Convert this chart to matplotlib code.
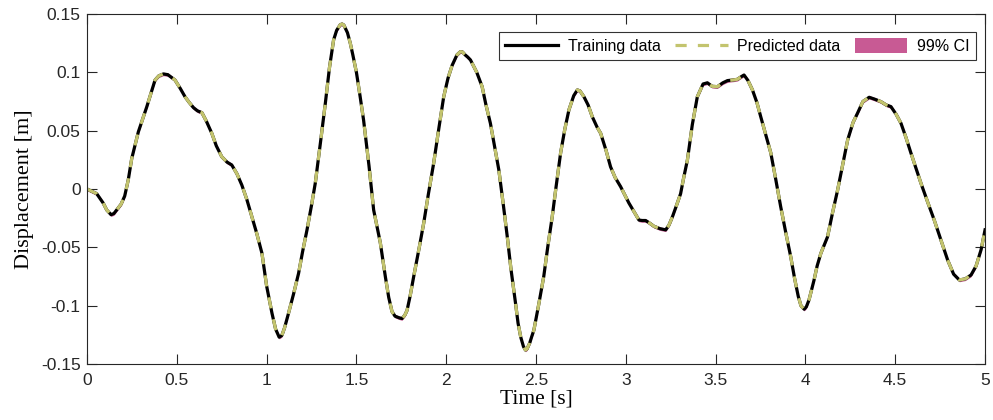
import matplotlib.pyplot as plt
import numpy as np

# values
time = [0.000, 0.054, 0.09, 0.11, 0.134, 0.15, 0.17, 0.19, 0.21, 0.23,
        0.249, 0.286, 0.333, 0.379, 0.40, 0.425, 0.45, 0.49, 0.52, 0.546,
        0.57, 0.593, 0.615, 0.64, 0.665, 0.695, 0.72, 0.75, 0.78, 0.806,
        0.835, 0.862, 0.89, 0.918, 0.945, 0.974, 1.00, 1.03, 1.05, 1.07,
        1.085, 1.10, 1.122, 1.15, 1.178, 1.20, 1.225, 1.25, 1.271, 1.30,
        1.327, 1.35, 1.373, 1.39, 1.41, 1.42, 1.43, 1.45, 1.466, 1.48,
        1.50, 1.52, 1.54, 1.57, 1.596, 1.633, 1.661, 1.68, 1.698, 1.715,
        1.74, 1.754, 1.77, 1.782, 1.80, 1.819, 1.85, 1.875, 1.90, 1.93,
        1.96, 1.986, 2.01, 2.033, 2.06, 2.079, 2.09, 2.105, 2.12, 2.135,
        2.17, 2.2, 2.22, 2.246, 2.27, 2.293, 2.32, 2.34, 2.36, 2.386,
        2.40, 2.415, 2.43, 2.441, 2.45, 2.465, 2.475, 2.488, 2.515, 2.543,
        2.565, 2.59, 2.61, 2.637, 2.66, 2.683, 2.71, 2.73, 2.745, 2.767,
        2.79, 2.813, 2.84, 2.86, 2.89, 2.915, 2.94, 2.971, 3.017, 3.04,
        3.073, 3.09, 3.11, 3.13, 3.157, 3.19, 3.222, 3.24, 3.259, 3.28,
        3.305, 3.32, 3.343, 3.37, 3.398, 3.43, 3.454, 3.48, 3.51, 3.54,
        3.566, 3.60, 3.621, 3.64, 3.658, 3.68, 3.705, 3.73, 3.751, 3.78,
        3.807, 3.835, 3.862, 3.89, 3.918, 3.94, 3.96, 3.975, 3.993, 4.005,
        4.02, 4.048, 4.065, 4.086, 4.123, 4.15, 4.179, 4.21, 4.235, 4.265,
        4.29, 4.32, 4.355, 4.385, 4.42, 4.45, 4.476, 4.505, 4.532, 4.56,
        4.587, 4.615, 4.643, 4.68, 4.717, 4.755, 4.792, 4.825, 4.857, 4.89,
        4.922, 4.95, 4.978, 5.0]
train_disp = [0.000, -0.004, -0.012, -0.018, -0.022, -0.021, -0.017, -0.013, -0.006, 0.008,
              0.026, 0.049, 0.0705, 0.0934, 0.097, 0.0986, 0.098, 0.0934, 0.086, 0.079,
              0.074, 0.0697, 0.067, 0.0654, 0.058, 0.0477, 0.037, 0.0277, 0.023, 0.0206,
              0.013, 0.0034, -0.009, -0.0237, -0.038, -0.055, -0.083, -0.1065, -0.120, -0.127,
              -0.1255, -0.119, -0.1065, -0.090, -0.0723, -0.054, -0.035, -0.014, 0.005, 0.040,
              0.0735, 0.104, 0.1277, 0.136, 0.1408, 0.1414, 0.1405, 0.134, 0.1249, 0.115,
              0.100, 0.080, 0.059, 0.020, -0.018, -0.046, -0.075, -0.093, -0.105, -0.109,
              -0.1105, -0.111, -0.108, -0.104, -0.091, -0.075, -0.050, -0.029, -0.005, 0.022,
              0.053, 0.079, 0.095, 0.106, 0.115, 0.1177, 0.1175, 0.115, 0.113, 0.1106,
              0.100, 0.0877, 0.073, 0.0563, 0.036, 0.0163, -0.016, -0.041, -0.068, -0.098,
              -0.115, -0.127, -0.135, -0.138, -0.137, -0.132, -0.127, -0.121, -0.099, -0.075,
              -0.050, -0.024, 0.000, 0.031, 0.051, 0.0677, 0.080, 0.0849, 0.084, 0.079,
              0.072, 0.062, 0.053, 0.0477, 0.033, 0.019, 0.010, 0.002, -0.012, -0.018,
              -0.0266, -0.027, -0.027, -0.029, -0.032, -0.034, -0.035, -0.031, -0.024, -0.015,
              -0.004, 0.008, 0.025, 0.055, 0.079, 0.090, 0.091, 0.088, 0.0877, 0.091,
              0.0929, 0.0935, 0.094, 0.096, 0.0977, 0.093, 0.0849, 0.074, 0.062, 0.046,
              0.031, 0.008, -0.015, -0.037, -0.058, -0.077, -0.092, -0.100, -0.103, -0.101,
              -0.095, -0.078, -0.066, -0.055, -0.041, -0.021, -0.001, 0.023, 0.042, 0.057,
              0.065, 0.075, 0.0786, 0.077, 0.0749, 0.072, 0.0706, 0.064, 0.0563, 0.044,
              0.031, 0.018, 0.005, -0.011, -0.0266, -0.044, -0.061, -0.073, -0.078, -0.077,
              -0.0737, -0.066, -0.052, -0.035]
pred_disp = list(train_disp)  # prediction sits right on top of the training curve
ci_half = 0.0015  # the 99% band is only a hair wide

xticks = [0, 0.5, 1, 1.5, 2, 2.5, 3, 3.5, 4, 4.5, 5]
xticklabels = ['0', '0.5', '1', '1.5', '2', '2.5', '3', '3.5', '4', '4.5', '5']
yticks = [-0.15, -0.1, -0.05, 0, 0.05, 0.1, 0.15]
yticklabels = ['-0.15', '-0.1', '-0.05', '0', '0.05', '0.1', '0.15']

plt.rcParams['font.family'] = 'Liberation Sans'

fig = plt.figure(figsize=(9.93, 4.2), dpi=100)
ax = fig.add_axes([0.0876, 0.1333, 0.9044, 0.8334])

t = np.array(time)
p = np.array(pred_disp)
ci = ax.fill_between(t, p - ci_half, p + ci_half, color='#c85a94', linewidth=0,
                     label='99% CI')
l1, = ax.plot(t, train_disp, color='black', lw=2.3, solid_joinstyle='round',
              label='Training data')
l2, = ax.plot(t, pred_disp, color='#c3c46e', lw=2.3, ls=(0, (3.5, 3.5)),
              dash_joinstyle='round', label='Predicted data')

ax.set_xlim(0, 5)
ax.set_ylim(-0.15, 0.15)
ax.set_xticks(xticks)
ax.set_xticklabels(xticklabels, fontsize=12.5)
ax.set_yticks(yticks)
ax.set_yticklabels(yticklabels, fontsize=12.5)
ax.tick_params(direction='in', length=7, width=0.8, top=True, right=True,
               color='#262626', labelcolor='#262626')
ax.tick_params(axis='x', pad=6.5)
ax.tick_params(axis='y', pad=4.5)
for s in ax.spines.values():
    s.set_color('#262626')
    s.set_linewidth(0.8)

ax.set_xlabel('Time [s]', family='Liberation Serif', fontsize=15.5, labelpad=1)
ax.set_ylabel('Displacement [m]', family='Liberation Serif', fontsize=16, labelpad=5)

leg = ax.legend(handles=[l1, l2, ci], loc='upper right', ncol=3, fontsize=11.5,
                frameon=True, fancybox=False, edgecolor='black', handlelength=3.3,
                handleheight=1.05, columnspacing=0.9, handletextpad=0.6,
                borderpad=0.4, borderaxespad=0, bbox_to_anchor=(0.990, 0.949))
leg.get_frame().set_linewidth(0.8)

fig.savefig('out.png', dpi=100)
